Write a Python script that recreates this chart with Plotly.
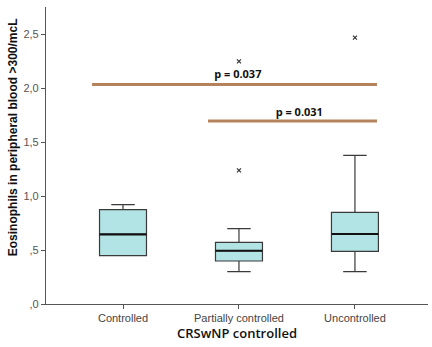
import plotly.graph_objects as go

categories = ["Controlled", "Partially controlled", "Uncontrolled"]
cat_pos = [0, 1, 2]
q1 = [0.447, 0.398, 0.487]
median = [0.644, 0.493, 0.648]
q3 = [0.873, 0.570, 0.848]
lower_whisker = [0.45, 0.299, 0.299]
upper_whisker = [0.92, 0.697, 1.376]

outlier_x = [1, 1, 2]
outlier_y = [1.237, 2.246, 2.466]

p_labels = ["p = 0.037", "p = 0.031"]
p_values_y = [2.033, 1.694]
p_x_start = [-0.267, 0.733]
p_x_end = [2.19, 2.19]
p_label_x = [0.99, 1.52]
p_label_y = [2.117, 1.77]

y_tickvals = [0, 0.5, 1.0, 1.5, 2.0, 2.5]
y_ticktext = [",0", ",5", "1,0", "1,5", "2,0", "2,5"]
y_title = "Eosinophils in peripheral blood >300/mcL"

BOX_W = 0.405

fig = go.Figure()
fig.add_trace(go.Box(
    x=cat_pos, q1=q1, median=median, q3=q3,
    lowerfence=lower_whisker, upperfence=upper_whisker,
    width=BOX_W, whiskerwidth=0.5,
    fillcolor="#b2e3e5", line=dict(color="#3a3a3a", width=1.2),
    boxpoints=False, showlegend=False, hoverinfo="skip",
))
for xc, m in zip(cat_pos, median):
    fig.add_trace(go.Scatter(
        x=[xc - BOX_W / 2, xc + BOX_W / 2], y=[m, m], mode="lines",
        line=dict(color="#111", width=2.2), showlegend=False,
    ))
fig.add_trace(go.Scatter(
    x=outlier_x, y=outlier_y, mode="markers",
    marker=dict(symbol="x-thin", size=4, line=dict(color="#333", width=1.2)),
    showlegend=False,
))
for xs, xe, yv in zip(p_x_start, p_x_end, p_values_y):
    fig.add_trace(go.Scatter(
        x=[xs, xe], y=[yv, yv], mode="lines",
        line=dict(color="#b4835c", width=3), showlegend=False,
    ))
fig.add_trace(go.Scatter(
    x=p_label_x, y=p_label_y, mode="text", text=p_labels,
    textfont=dict(family="Open Sans", size=11, color="#111"),
    texttemplate="<b>%{text}</b>", showlegend=False,
))

fig.add_annotation(
    text="<b>" + y_title + "</b>", textangle=-90,
    xref="paper", yref="paper", x=-0.086, y=0.562,
    xanchor="center", yanchor="middle", showarrow=False,
    font=dict(family="Liberation Sans", size=12, color="#111"),
)

fig.update_layout(
    width=432, height=347,
    margin=dict(l=46, r=4, t=7, b=43),
    paper_bgcolor="white", plot_bgcolor="white",
    font=dict(family="Liberation Sans", color="#333", size=11),
)
fig.update_xaxes(
    range=[-0.664, 2.63], tickvals=cat_pos, ticktext=categories,
    showline=True, linecolor="#555", linewidth=1.2,
    ticks="outside", ticklen=4, tickcolor="#555",
    showgrid=False, zeroline=False, automargin=False,
    tickfont=dict(size=11, color="#444"),
    title=dict(text="CRSwNP controlled", font=dict(family="Open Sans", size=13, color="#111", weight=600), standoff=5),
)
fig.update_yaxes(
    range=[0, 2.75], tickvals=y_tickvals, ticktext=y_ticktext,
    showline=True, linecolor="#555", linewidth=1.2,
    ticks="outside", ticklen=4, tickcolor="#555",
    showgrid=False, zeroline=False, automargin=False,
    tickfont=dict(size=11, color="#555"),
)
fig.write_html("out.html", config={"displayModeBar": False})

with open("out.html", "r", encoding="utf-8") as f:
    html = f.read()
html = html.replace("<head>", "<head><style>html,body{margin:0;padding:0;overflow:hidden;}</style>", 1)
with open("out.html", "w", encoding="utf-8") as f:
    f.write(html)
